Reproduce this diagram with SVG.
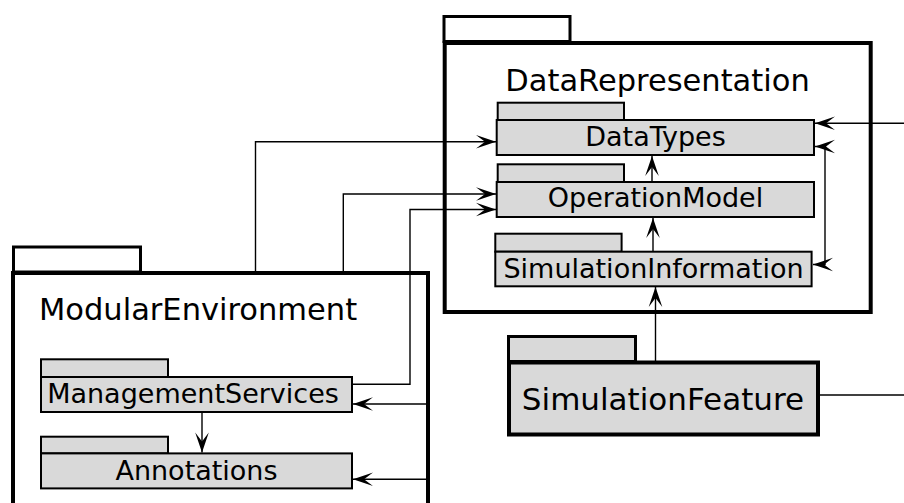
<svg xmlns="http://www.w3.org/2000/svg" width="904" height="503" viewBox="0 0 904 503">
  <style>
    .outer { fill: #ffffff; stroke: #000000; stroke-width: 4; }
    .outer-tab { fill: #ffffff; stroke: #000000; stroke-width: 3; }
    .pkg { fill: #d9d9d9; stroke: #000000; stroke-width: 2; }
    .pkg-big { fill: #d9d9d9; stroke: #000000; stroke-width: 4; }
    .pkg-tab { fill: #d9d9d9; stroke: #000000; stroke-width: 2; }
    .pkg-big-tab { fill: #d9d9d9; stroke: #000000; stroke-width: 3; }
    .title { font-family: "DejaVu Sans", Verdana, sans-serif; font-size: 30.5px; fill: #000000; }
    .label { font-family: "DejaVu Sans", Verdana, sans-serif; font-size: 27px; fill: #000000; text-anchor: middle; }
    .label-big { font-family: "DejaVu Sans", Verdana, sans-serif; font-size: 31px; fill: #000000; text-anchor: middle; }
    .conn { fill: none; stroke: #000000; stroke-width: 1.4; }
  </style>
  <defs>
    <marker id="arrow" viewBox="-22 -8 24 16" markerWidth="24" markerHeight="16" refX="0" refY="0" orient="auto-start-reverse" markerUnits="userSpaceOnUse">
      <path d="M0,0 L-20,-6.8 L-11,0 L-20,6.8 Z" fill="#000000"/>
    </marker>
  </defs>

  <!-- DataRepresentation package -->
  <g id="DataRepresentation">
    <rect class="outer-tab" x="444" y="16.5" width="126" height="25"/>
    <rect class="outer" x="444.7" y="43" width="426" height="269"/>
    <text class="title" x="657.5" y="91" text-anchor="middle">DataRepresentation</text>
  </g>

  <!-- ModularEnvironment package -->
  <g id="ModularEnvironment">
    <rect class="outer-tab" x="13.5" y="247" width="127" height="25"/>
    <rect class="outer" x="13" y="273" width="415" height="245"/>
    <text class="title" x="39" y="320">ModularEnvironment</text>
  </g>

  <g id="DataTypes">
    <rect class="pkg-tab" x="497.7" y="102.7" width="126.3" height="17.3"/>
    <rect class="pkg" x="496.7" y="120" width="317.3" height="35"/>
    <text class="label" x="655.5" y="146">DataTypes</text>
  </g>

  <g id="OperationModel">
    <rect class="pkg-tab" x="497.7" y="164.3" width="126.3" height="17.7"/>
    <rect class="pkg" x="496.7" y="182" width="317.3" height="35"/>
    <text class="label" x="655.5" y="207">OperationModel</text>
  </g>

  <g id="SimulationInformation">
    <rect class="pkg-tab" x="495.3" y="233.7" width="126.3" height="18"/>
    <rect class="pkg" x="495.3" y="251.7" width="316.3" height="34.6"/>
    <text class="label" x="653.5" y="278">SimulationInformation</text>
  </g>

  <g id="SimulationFeature">
    <rect class="pkg-big-tab" x="508.5" y="336.5" width="127" height="25"/>
    <rect class="pkg-big" x="509" y="362.5" width="309" height="72"/>
    <text class="label-big" x="663" y="410">SimulationFeature</text>
  </g>

  <g id="ManagementServices">
    <rect class="pkg-tab" x="41" y="359.3" width="127" height="17.7"/>
    <rect class="pkg" x="41" y="377" width="311" height="35"/>
    <text class="label" x="193" y="403">ManagementServices</text>
  </g>

  <g id="Annotations">
    <rect class="pkg-tab" x="41" y="436.7" width="127" height="16.7"/>
    <rect class="pkg" x="41" y="453.4" width="311" height="35"/>
    <text class="label" x="196.5" y="480">Annotations</text>
  </g>

  <!-- Connectors -->
  <g id="connectors">
    <path class="conn" d="M904,123.3 H815" marker-end="url(#arrow)"/>
    <path class="conn" d="M815,146.5 H825 V264.5 H813" marker-start="url(#arrow)" marker-end="url(#arrow)"/>
    <path class="conn" d="M652,182 V156" marker-end="url(#arrow)"/>
    <path class="conn" d="M653,251 V218" marker-end="url(#arrow)"/>
    <path class="conn" d="M655.5,361 V287" marker-end="url(#arrow)"/>
    <path class="conn" d="M820,395 H904"/>
    <path class="conn" d="M255.5,271 V141.7 H496" marker-end="url(#arrow)"/>
    <path class="conn" d="M343.3,271 V194 H496" marker-end="url(#arrow)"/>
    <path class="conn" d="M353,384.3 H410 V209.5 H496" marker-end="url(#arrow)"/>
    <path class="conn" d="M428,404 H353" marker-end="url(#arrow)"/>
    <path class="conn" d="M428,479.3 H353" marker-end="url(#arrow)"/>
    <path class="conn" d="M202,413 V452.5" marker-end="url(#arrow)"/>
  </g>
</svg>
